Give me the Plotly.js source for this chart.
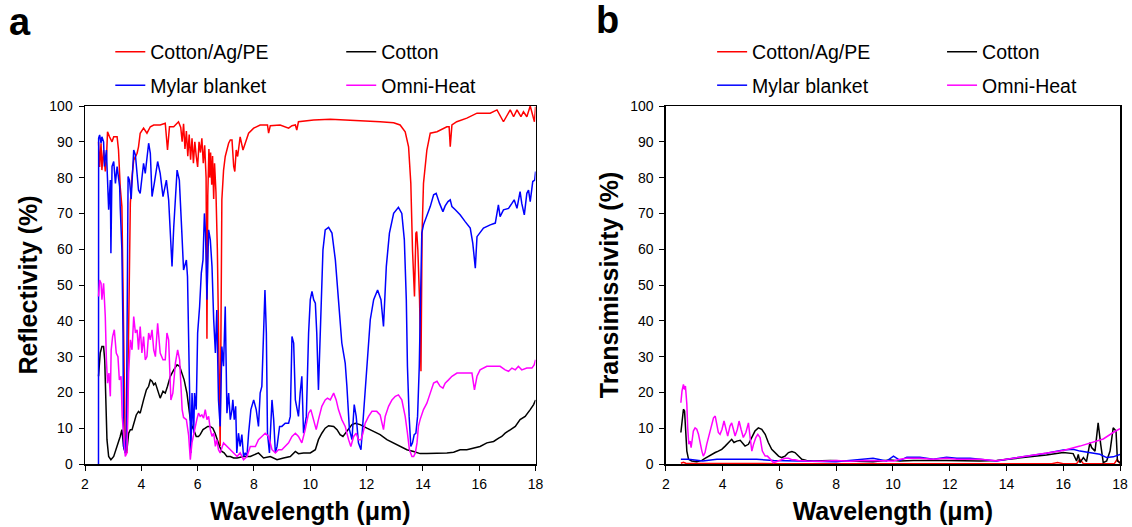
<!DOCTYPE html>
<html><head><meta charset="utf-8">
<script src="https://cdn.plot.ly/plotly-3.0.1.min.js"></script>
<style>html,body{margin:0;padding:0;background:#fff}#chart{width:1132px;height:527px}</style>
</head><body><div id="chart"></div>
<script>
// ---------- DATA (wavelength µm, value %) ----------
const seriesNames = ["Cotton/Ag/PE", "Cotton", "Mylar blanket", "Omni-Heat"];
const xTicks = [2,4,6,8,10,12,14,16,18];
const yTicks = [0,10,20,30,40,50,60,70,80,90,100];

// Panel a: reflectivity
const aRed = [[2.48,90],[2.52,83],[2.57,89.6],[2.60,82.1],[2.66,87.7],[2.72,81.7],[2.76,85],[2.80,92.8],[2.87,91.4],[2.96,90],[3.02,91.4],[3.14,91.4],[3.19,87.7],[3.25,77.5],[3.31,71.9],[3.37,36.6],[3.43,4],[3.49,3.1],[3.55,45.9],[3.61,72.8],[3.67,80.3],[3.73,84.9],[3.85,86.8],[3.90,88.6],[3.96,92.4],[4.08,93.8],[4.20,92.4],[4.32,94.2],[4.44,94.7],[4.67,94.7],[4.85,95.2],[4.93,87.7],[5.00,94.2],[5.15,94.2],[5.32,95.6],[5.40,94],[5.45,90],[5.50,95],[5.55,88],[5.60,93],[5.65,86],[5.70,92],[5.75,85],[5.80,91],[5.85,84],[5.90,90],[5.95,86],[6.00,83],[6.05,90],[6.10,87],[6.15,91],[6.20,84],[6.25,89],[6.30,80],[6.33,35],[6.36,75],[6.40,88],[6.43,80],[6.46,87],[6.50,78],[6.53,86],[6.57,74],[6.60,84],[6.65,76],[6.70,60],[6.75,30],[6.80,5],[6.86,73.8],[6.92,82],[6.98,85.9],[7.05,88],[7.10,89.6],[7.16,90.5],[7.22,90.5],[7.28,83.1],[7.32,81.7],[7.37,87.7],[7.42,85.9],[7.51,91.4],[7.61,87.7],[7.69,89.6],[7.81,92.4],[7.99,93.8],[8.22,94.7],[8.48,94.7],[8.52,92.4],[8.58,94.5],[8.93,94.7],[9.23,93.8],[9.35,94.5],[9.47,94.7],[9.52,93.3],[9.58,95.6],[10.12,96.1],[10.71,96.3],[11.30,96.1],[11.89,95.9],[12.48,95.6],[12.96,95.3],[13.19,94.7],[13.37,92.8],[13.49,88.6],[13.57,78.4],[13.63,59.8],[13.70,46.8],[13.75,64.5],[13.78,64.9],[13.82,59.8],[13.88,45.9],[13.93,25.9],[13.97,64.5],[14.02,78.4],[14.14,87.7],[14.26,92.4],[14.50,92.8],[14.85,94.2],[14.93,94.2],[14.97,88.6],[15.03,94.7],[15.20,95.6],[15.56,96.6],[15.92,98],[16.15,98],[16.39,98],[16.63,98.9],[16.86,95.6],[17.10,98.9],[17.22,97],[17.34,98.9],[17.48,97],[17.57,98.4],[17.69,97],[17.81,100],[17.90,97],[17.96,95.6],[18.0,99.8]];

const aBlack = [[2.48,24.5],[2.54,31],[2.60,32.8],[2.66,32.8],[2.70,29.1],[2.73,17.9],[2.78,6.8],[2.84,2.1],[2.92,1.2],[3.02,2.1],[3.14,4.9],[3.25,7.7],[3.31,9.6],[3.37,4.9],[3.43,3.1],[3.49,4],[3.55,8.6],[3.61,9.6],[3.67,9.6],[3.73,11.4],[3.82,13.7],[3.90,14.7],[3.96,14.2],[4.08,17.9],[4.18,20.7],[4.26,21.7],[4.32,23.5],[4.38,23.1],[4.44,22.1],[4.50,22.6],[4.58,20.7],[4.67,18.4],[4.77,20.3],[4.85,19.8],[4.93,21.7],[5.03,24.5],[5.15,26.3],[5.27,27.7],[5.36,27.3],[5.44,25.4],[5.52,23.5],[5.62,19.8],[5.68,16.1],[5.74,12.4],[5.80,10.5],[5.86,9.6],[5.95,7.7],[6.03,7.7],[6.09,8.2],[6.19,9.6],[6.27,10.0],[6.36,10.5],[6.45,10.5],[6.54,10],[6.62,8.6],[6.69,6.8],[6.78,4.9],[6.86,3.5],[6.94,3.1],[7.04,2.1],[7.16,2.1],[7.28,1.7],[7.40,1.7],[7.63,2.1],[7.87,2.1],[8.16,3.1],[8.34,1.7],[8.58,2.1],[8.82,1.2],[9.05,1.7],[9.29,2.1],[9.47,3.5],[9.58,2.9],[9.76,3.1],[10.0,3.1],[10.18,4],[10.29,6.8],[10.41,8.6],[10.53,10],[10.65,10.7],[10.83,10.5],[10.95,9.6],[11.06,8.2],[11.16,7.7],[11.24,8.6],[11.36,10],[11.48,11],[11.60,11.4],[11.77,11],[12.01,10],[12.25,9.1],[12.48,8.2],[12.72,6.8],[12.96,5.9],[13.19,4.9],[13.43,4],[13.67,3.5],[13.90,2.9],[14.14,2.9],[14.38,2.9],[14.61,3.1],[14.85,3.1],[15.09,3.3],[15.32,4],[15.56,4],[15.80,4.5],[16.03,4.9],[16.27,5.9],[16.51,6.3],[16.69,7.2],[16.80,7.7],[16.92,8.6],[17.10,9.6],[17.28,10.5],[17.45,12.4],[17.63,13.3],[17.81,15.2],[17.93,16.6],[18.0,17.9]];

const aBlue = [[2.479,0],[2.484,91],[2.52,91.9],[2.57,89.6],[2.60,91.4],[2.66,90],[2.69,83.1],[2.76,87.7],[2.84,71],[2.90,79.3],[2.92,58.9],[2.96,83.1],[3.02,84.5],[3.08,78.4],[3.14,83.1],[3.23,77.5],[3.25,71.9],[3.31,59.8],[3.35,36.6],[3.37,4.9],[3.43,3],[3.47,8.6],[3.53,80.3],[3.58,79.3],[3.64,74],[3.73,87.7],[3.79,86.3],[3.90,76.5],[3.96,75.6],[4.08,84],[4.14,81.2],[4.26,89.6],[4.32,86.8],[4.38,74.7],[4.46,78.4],[4.58,84.5],[4.67,81.2],[4.77,74.7],[4.89,79.3],[4.97,73.8],[5.09,55.2],[5.15,66],[5.27,82.1],[5.35,79.3],[5.44,64.5],[5.50,54.2],[5.60,57],[5.64,52.4],[5.72,17.9],[5.76,3.1],[5.80,19.8],[5.86,8.6],[5.89,19.8],[5.95,15.2],[6.00,36.6],[6.07,44],[6.13,53.3],[6.19,57],[6.24,70],[6.28,64.5],[6.33,45.9],[6.39,65.4],[6.45,62.6],[6.51,55.2],[6.57,40.3],[6.63,31],[6.68,43],[6.74,17.9],[6.80,10.5],[6.86,32.8],[6.92,27.3],[6.98,44],[7.04,14.2],[7.10,19.8],[7.16,12.4],[7.22,15.2],[7.25,17.9],[7.30,12.4],[7.35,16.1],[7.39,3.1],[7.45,8.6],[7.51,4.9],[7.57,8.2],[7.63,2.1],[7.69,3.1],[7.75,2.1],[7.81,8.6],[7.89,15.2],[7.99,17.9],[8.08,15.2],[8.16,10.5],[8.22,19.8],[8.28,21.7],[8.34,38.4],[8.39,48.6],[8.44,36.6],[8.48,8.6],[8.55,3.1],[8.64,17.9],[8.70,12.4],[8.76,3.1],[8.82,4.9],[8.91,10.5],[8.99,10.5],[9.11,11.4],[9.23,11.4],[9.29,13.3],[9.35,35.6],[9.41,33.8],[9.47,17.9],[9.58,13.3],[9.64,19.8],[9.70,24.5],[9.76,8.6],[9.86,13.3],[9.94,36.6],[10.0,45.9],[10.06,48.2],[10.12,45.9],[10.18,44.9],[10.23,36.6],[10.29,20.7],[10.35,36.6],[10.45,59.8],[10.53,65.4],[10.65,66.1],[10.77,64.5],[10.89,57],[11.0,45.9],[11.12,33.8],[11.18,31],[11.24,28.2],[11.30,21.7],[11.39,9.6],[11.48,6.8],[11.56,16.6],[11.63,13.3],[11.71,5.9],[11.80,4],[11.89,13.3],[12.01,27.3],[12.13,40.3],[12.25,45.9],[12.39,48.6],[12.51,45.9],[12.60,38.4],[12.70,55.2],[12.81,64.5],[12.96,70],[13.13,71.7],[13.25,70],[13.34,62.6],[13.41,45.9],[13.45,27.3],[13.51,13.3],[13.57,4.9],[13.63,5.9],[13.69,8.2],[13.75,8.6],[13.81,13.3],[13.87,27.3],[13.92,55.2],[13.96,64.5],[14.02,66.8],[14.14,69.1],[14.26,71.9],[14.38,75.2],[14.47,75.6],[14.59,72.8],[14.71,70.5],[14.79,72.1],[14.89,73.3],[14.97,73.8],[15.03,71.9],[15.15,71],[15.32,69.6],[15.50,67.7],[15.68,65.9],[15.77,61.7],[15.86,54.7],[15.92,63.5],[16.01,64.5],[16.15,65.9],[16.39,66.8],[16.57,67.3],[16.68,72.4],[16.74,69.1],[16.86,71],[17.04,71.4],[17.16,72.8],[17.24,73.8],[17.34,71.4],[17.45,76.1],[17.51,72.8],[17.60,69.6],[17.69,75.6],[17.75,76.5],[17.81,73.3],[17.90,78.9],[17.97,79.3],[18.0,81.7]];

const aMagenta = [[2.48,46.8],[2.52,51.4],[2.57,50.5],[2.60,45.9],[2.66,50.5],[2.72,41.2],[2.76,29.1],[2.80,22.6],[2.85,25.4],[2.90,18.9],[2.93,31.9],[2.98,35.6],[3.04,37.5],[3.11,31],[3.17,30],[3.22,23.5],[3.28,24.5],[3.32,13.3],[3.37,8.6],[3.43,2.1],[3.49,3.1],[3.55,25.4],[3.61,34.7],[3.67,31.9],[3.73,41.2],[3.79,36.6],[3.85,37.5],[3.90,31.9],[3.96,38.4],[4.02,31],[4.08,35.6],[4.14,29.1],[4.20,30],[4.26,36.6],[4.32,34.7],[4.38,37.5],[4.44,31.9],[4.50,30],[4.58,39.3],[4.67,31],[4.77,29.1],[4.85,29.1],[4.91,36.6],[4.97,34.7],[5.05,17.9],[5.12,19.8],[5.21,28.2],[5.29,31.9],[5.36,29.1],[5.45,15.2],[5.50,13],[5.60,12.4],[5.68,8],[5.74,1.2],[5.80,6],[5.86,8.6],[5.97,12.4],[6.03,14.2],[6.09,13.3],[6.15,13.7],[6.21,12.8],[6.27,15.2],[6.33,12.4],[6.39,13.3],[6.45,9.6],[6.51,7.7],[6.57,8.6],[6.63,4.9],[6.68,6.8],[6.74,4],[6.80,3.1],[6.92,5.9],[7.04,4.9],[7.16,4],[7.28,3.1],[7.40,2.1],[7.51,3.1],[7.63,1.2],[7.75,2.1],[7.87,4.9],[8.05,4.9],[8.16,6.8],[8.28,7.7],[8.40,8.6],[8.52,7.7],[8.64,4],[8.76,3.1],[8.87,4],[8.99,4],[9.11,4.9],[9.23,5.9],[9.35,7.7],[9.47,8.6],[9.58,7.7],[9.70,5.9],[9.82,9.6],[9.94,14.2],[10.02,15.2],[10.12,12.4],[10.21,9.6],[10.29,12.4],[10.41,16.1],[10.53,17.9],[10.61,18.4],[10.71,17.9],[10.83,19.8],[10.92,17.9],[11.0,15.2],[11.12,12.4],[11.24,10.5],[11.36,6.8],[11.44,4.9],[11.54,7.7],[11.63,8.6],[11.71,6.8],[11.80,6.8],[11.87,8.6],[11.95,11.4],[12.07,13.3],[12.19,14.7],[12.36,14.7],[12.48,13.7],[12.60,9.6],[12.66,13.3],[12.78,16.1],[12.90,17.9],[13.02,18.9],[13.13,19.3],[13.25,17.9],[13.37,13.3],[13.45,8.6],[13.52,4],[13.61,2.1],[13.67,2.1],[13.73,3.1],[13.79,5.9],[13.84,10.5],[13.90,12.4],[14.02,15.2],[14.14,17],[14.26,19.8],[14.38,22.6],[14.50,23.1],[14.61,21.7],[14.71,21.2],[14.79,22.6],[14.91,23.5],[15.03,24.5],[15.21,25.4],[15.56,25.4],[15.74,25.4],[15.83,20.7],[15.92,24.5],[16.03,26.3],[16.27,27.3],[16.51,27.3],[16.74,27.3],[16.92,26.3],[17.04,25.9],[17.16,26.8],[17.28,26.3],[17.39,27.3],[17.51,26.3],[17.69,26.8],[17.87,26.8],[17.95,27.7],[18.0,29.1]];

// Panel b: transmissivity
const bRed = [[2.53,0.2],[2.62,0.5],[2.70,0.2],[4.0,0.1],[6.0,0.1],[8.0,0.1],[10.0,0.1],[12.0,0.1],[14.0,0.1],[15.6,0.1],[15.8,0.4],[16.0,0.1],[16.47,0.1],[16.59,1.3],[16.71,0.1],[17.8,0.1],[17.9,1.3],[18.0,0.1]];

const bBlack = [[2.53,8.8],[2.57,11.1],[2.62,15.3],[2.66,14.8],[2.69,11.1],[2.74,3.6],[2.80,1.3],[2.91,0.84],[3.09,0.66],[3.27,1.0],[3.38,1.6],[3.50,2.2],[3.62,2.7],[3.74,3.2],[3.85,3.6],[3.97,4.1],[4.09,5.0],[4.21,6.0],[4.32,6.9],[4.40,6.0],[4.50,6.4],[4.62,6.6],[4.71,5.7],[4.79,5.0],[4.91,5.5],[5.03,7.4],[5.14,9.2],[5.26,10.1],[5.38,9.7],[5.50,8.3],[5.61,6.0],[5.73,4.1],[5.85,3.2],[5.97,2.2],[6.08,1.8],[6.20,2.2],[6.32,3.2],[6.44,3.5],[6.55,3.2],[6.67,2.2],[6.79,1.3],[6.96,1.0],[7.20,0.84],[7.80,1.0],[8.50,0.84],[9.30,0.66],[9.55,0.84],[9.90,1.1],[10.25,0.84],[10.72,1.0],[11.89,1.0],[13.07,0.84],[13.65,1.0],[14.24,1.6],[14.83,2.0],[15.41,2.5],[16.0,3.2],[16.35,2.9],[16.47,0.84],[16.53,2.7],[16.59,0.4],[16.71,1.8],[16.82,0.66],[16.94,6.0],[17.0,4.6],[17.12,3.6],[17.23,11.5],[17.32,5.5],[17.41,0.4],[17.53,0.84],[17.65,3.6],[17.76,10.1],[17.86,9.2],[17.91,0.84],[18.0,0.4]];

const bBlue = [[2.53,1.3],[2.80,1.3],[3.30,0.84],[3.80,1.3],[4.50,1.3],[5.20,1.3],[5.80,1.0],[6.50,0.84],[7.50,0.66],[8.00,0.66],[9.30,1.6],[9.55,1.3],[9.78,0.84],[10.02,2.2],[10.25,1.0],[10.49,1.9],[10.95,1.9],[11.42,1.3],[11.89,1.9],[12.25,1.6],[12.72,1.6],[13.07,1.3],[13.65,0.84],[14.24,1.6],[14.83,2.2],[15.41,3.0],[16.0,3.9],[16.35,4.1],[16.59,3.6],[16.94,3.2],[17.29,2.7],[17.53,1.8],[17.76,2.0],[18.0,2.7]];

const bMagenta = [[2.53,17.1],[2.57,20.4],[2.62,22.2],[2.66,20.8],[2.69,21.8],[2.74,16.7],[2.77,10.1],[2.81,5.5],[2.86,6.4],[2.89,4.6],[2.94,7.4],[2.97,9.2],[3.03,10.1],[3.09,9.7],[3.15,8.3],[3.21,5.5],[3.27,3.6],[3.32,2.2],[3.38,3.2],[3.44,5.5],[3.50,7.4],[3.56,9.7],[3.62,11.1],[3.68,12.9],[3.74,13.4],[3.79,11.1],[3.85,8.8],[3.91,8.3],[3.98,9.7],[4.05,12.0],[4.11,10.1],[4.18,7.8],[4.26,10.6],[4.32,11.5],[4.38,9.7],[4.44,7.8],[4.52,9.7],[4.58,12.0],[4.65,9.7],[4.73,7.4],[4.82,8.8],[4.91,11.5],[4.97,7.4],[5.03,3.6],[5.09,5.5],[5.17,7.4],[5.24,8.3],[5.32,7.4],[5.40,3.6],[5.50,2.2],[5.58,2.2],[5.67,1.3],[5.79,0.4],[5.91,0.7],[6.02,1.0],[6.20,1.6],[6.32,1.6],[6.44,1.2],[6.55,1.2],[6.67,1.0],[6.96,0.84],[7.50,0.8],[8.00,1.0],[8.50,0.8],[9.00,1.0],[9.55,0.9],[10.02,0.84],[10.25,1.3],[10.49,1.6],[10.95,1.6],[11.42,1.3],[11.89,1.6],[12.25,1.3],[12.72,1.3],[13.07,1.3],[13.65,0.9],[14.24,1.6],[14.83,2.2],[15.41,3.0],[16.0,3.8],[16.59,5.0],[17.0,6.0],[17.41,7.0],[17.76,8.8],[18.0,9.9]];

// ---------- STYLE / LAYOUT ----------
const FONT = 'Arial, "Liberation Sans", sans-serif';
const colors = ["#ff0000", "#000000", "#0000ff", "#ff00ff"];
const W = 1132, H = 527;
const M = {l: 84.7, r: 12, t: 106, b: 62.7};
const PW = W - M.l - M.r, PH = H - M.t - M.b;
const px = v => (v - M.l) / PW;          // pixel x -> paper x
const py = v => (H - M.b - v) / PH;      // pixel y -> paper y

const panelA = [aRed, aBlack, aBlue, aMagenta];
const panelB = [bRed, bBlack, bBlue, bMagenta];
const legendLeft = [[110, 341], [712, 942]];
const rowY = [52, 85.5];

const traces = [];
const legends = {};
let li = 0;
[panelA, panelB].forEach((panel, p) => {
  panel.forEach((ser, i) => {
    li++;
    const lname = li === 1 ? 'legend' : 'legend' + li;
    traces.push({
      type: 'scatter', mode: 'lines',
      x: ser.map(d => d[0]), y: ser.map(d => d[1]),
      name: seriesNames[i],
      xaxis: p === 0 ? 'x' : 'x2', yaxis: p === 0 ? 'y' : 'y2',
      line: {color: colors[i], width: 1.5},
      legend: lname, hoverinfo: 'skip'
    });
    legends[lname] = {
      x: px(legendLeft[p][i % 2]), y: py(rowY[Math.floor(i / 2)]),
      xanchor: 'left', yanchor: 'middle',
      bgcolor: 'rgba(0,0,0,0)', borderwidth: 0,
      font: {family: FONT, size: 19.5, color: '#000'},
      itemwidth: 30
    };
  });
});

const axBase = {
  showline: true, linecolor: '#000', linewidth: 1.5, mirror: true,
  ticks: 'outside', ticklen: 5, tickwidth: 1, tickcolor: '#000',
  showgrid: false, zeroline: false,
  tickfont: {family: FONT, size: 14, color: '#000'}
};
const xAx = (dom, anchor) => Object.assign({}, axBase, {
  domain: dom, anchor: anchor, range: [2, 18], tickmode: 'array', tickvals: xTicks,
  ticklabelstandoff: 2,
  title: {text: '<b>Wavelength (μm)</b>', font: {family: FONT, size: 25, color: '#000'}, standoff: 11}
});
const yAx = (anchor, title) => Object.assign({}, axBase, {
  domain: [0, 1], anchor: anchor, range: [0, 100], tickmode: 'array', tickvals: yTicks,
  ticklabelstandoff: 3,
  title: {text: '<b>' + title + '</b>', font: {family: FONT, size: 25, color: '#000'}, standoff: 4}
});

const layout = Object.assign({
  width: W, height: H, margin: M, showlegend: true,
  paper_bgcolor: '#fff', plot_bgcolor: '#fff',
  font: {family: FONT, color: '#000'},
  xaxis: xAx([0, px(535.4)], 'y'),
  yaxis: yAx('x', 'Reflectivity (%)'),
  xaxis2: xAx([px(665.7), 1], 'y2'),
  yaxis2: yAx('x2', 'Transimissivity (%)'),
  annotations: [
    {text: '<b>a</b>', xref: 'paper', yref: 'paper', x: px(20), y: py(22), xanchor: 'center', yanchor: 'middle', showarrow: false, font: {family: FONT, size: 38, color: '#000'}},
    {text: '<b>b</b>', xref: 'paper', yref: 'paper', x: px(607.5), y: py(20), xanchor: 'center', yanchor: 'middle', showarrow: false, font: {family: FONT, size: 38, color: '#000'}}
  ]
}, legends);

Plotly.newPlot('chart', traces, layout, {displayModeBar: false, staticPlot: true});
</script></body></html>
